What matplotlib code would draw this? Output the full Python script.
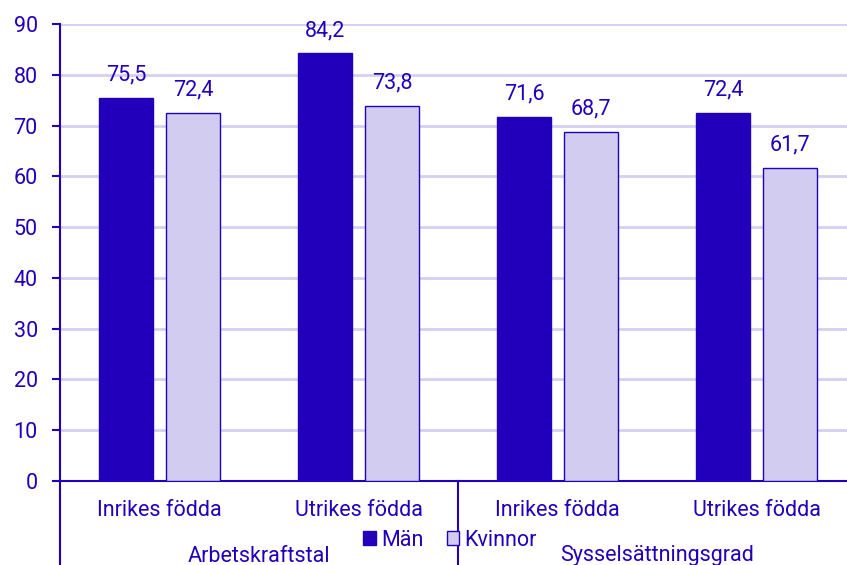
import matplotlib
matplotlib.use("Agg")
import matplotlib.pyplot as plt
from matplotlib.lines import Line2D
from matplotlib.patches import Patch
import matplotlib.transforms as mtrans
import numpy as np

plt.rcParams['font.family'] = ['Roboto', 'DejaVu Sans']

categories = ["Inrikes födda", "Utrikes födda", "Inrikes födda", "Utrikes födda"]
groups = ["Arbetskraftstal", "Sysselsättningsgrad"]
man = [75.5, 84.2, 71.6, 72.4]
kvinnor = [72.4, 73.8, 68.7, 61.7]
series_names = ["Män", "Kvinnor"]
yticks = [0, 10, 20, 30, 40, 50, 60, 70, 80, 90]

DARK = "#2200BB"
LIGHT = "#D2CDF0"
GRID = "#D4D0F2"
FS = 15.5

fig = plt.figure(figsize=(8.47, 5.65), dpi=100)
ax = fig.add_axes([60/847, 1-481/565, 1-60/847, (481-24)/565])

x = np.arange(len(categories))
w = 0.27
off = 0.168
ax.bar(x - off, man, w, color=DARK, edgecolor=DARK, linewidth=1, zorder=3)
ax.bar(x + off, kvinnor, w, color=LIGHT, edgecolor=DARK, linewidth=1, zorder=3)

for xi, v in zip(x, man):
    ax.annotate(f"{v:.1f}".replace(".", ","), (xi - off, v), xytext=(0, 9),
                textcoords="offset points", ha="center", va="bottom",
                color=DARK, fontsize=FS)
for xi, v in zip(x, kvinnor):
    ax.annotate(f"{v:.1f}".replace(".", ","), (xi + off, v), xytext=(0, 9),
                textcoords="offset points", ha="center", va="bottom",
                color=DARK, fontsize=FS)

ax.set_ylim(0, 90)
ax.set_xlim(-0.5, (847-60)/199 - 0.5)
ax.set_yticks(yticks)
ax.set_yticklabels([str(t) for t in yticks], color=DARK, fontsize=FS)
ax.tick_params(axis='y', length=6, width=1.5, color=DARK, pad=10)
ax.set_xticks([])
ax.yaxis.grid(True, color=GRID, linewidth=2, zorder=0)
ax.set_axisbelow(True)
for s in ["top", "right"]:
    ax.spines[s].set_visible(False)
ax.spines["left"].set_color(DARK)
ax.spines["left"].set_linewidth(1.5)
ax.spines["bottom"].set_color(DARK)
ax.spines["bottom"].set_linewidth(1.5)

trans = ax.get_xaxis_transform()
ax.add_line(Line2D([-0.5, -0.5], [0, -0.2], transform=trans, color=DARK, lw=1.5, clip_on=False))
ax.add_line(Line2D([1.5, 1.5], [0, -0.2], transform=trans, color=DARK, lw=1.5, clip_on=False))

bt = mtrans.blended_transform_factory(ax.transData, fig.transFigure)
for xi, c in zip(x, categories):
    ax.text(xi, 1-511/565, c, transform=bt, ha="center", va="center", color=DARK, fontsize=FS)
for gi, g in enumerate(groups):
    ax.text(0.5 + 2*gi, 1-556/565, g, transform=bt, ha="center", va="center", color=DARK, fontsize=FS)

handles = [Patch(facecolor=DARK, edgecolor=DARK), Patch(facecolor=LIGHT, edgecolor=DARK)]
fig.legend(handles, series_names, loc="center", bbox_to_anchor=(450/847, 1-540/565),
           ncol=2, frameon=False, fontsize=FS, labelcolor=DARK,
           handlelength=0.6, handleheight=0.6, handletextpad=0.23, columnspacing=1.07,
           borderpad=0, borderaxespad=0)

fig.savefig("out.png", dpi=100)
